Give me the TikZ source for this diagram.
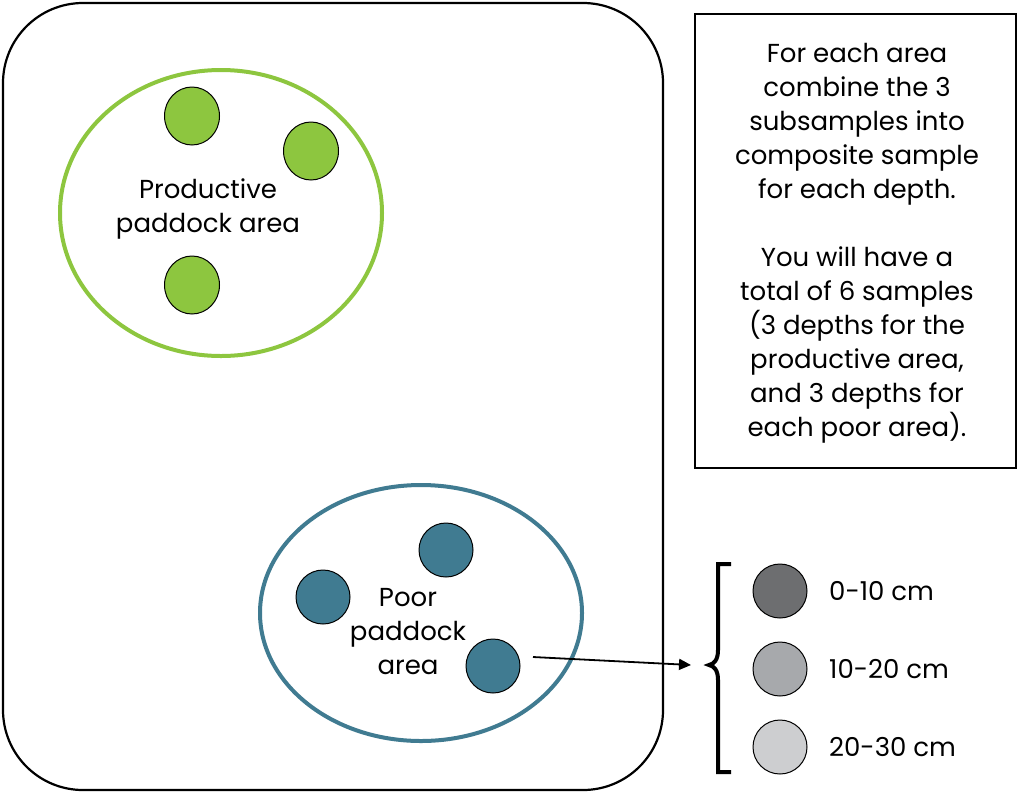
\documentclass[tikz,border=0pt]{standalone}
\usepackage{fontspec}
\setmainfont{Poppins}
\usetikzlibrary{shapes.geometric,arrows.meta}
\definecolor{grn}{HTML}{8DC63F}
\definecolor{blu}{HTML}{407B91}
\definecolor{g1}{HTML}{6D6E70}
\definecolor{g2}{HTML}{A7A9AC}
\definecolor{g3}{HTML}{CDCED0}
\tikzset{
  dot/.style={circle,draw=black,line width=1pt,minimum size=54pt,inner sep=0pt},
  area/.style={ellipse,line width=4pt,inner sep=0pt},
  lbl/.style={align=center,font=\fontsize{26}{34}\selectfont,inner sep=0pt},
  legend/.style={anchor=west,font=\fontsize{26}{34}\selectfont,inner sep=0pt}
}
\begin{document}
\begin{tikzpicture}[x=1pt,y=-1pt]
\useasboundingbox (0,0) rectangle (1024,793);
% outer paddock
\node[draw=black,line width=2.2pt,rounded corners=80pt,minimum width=660pt,minimum height=787pt,inner sep=0pt] (paddock) at (333,396.5) {};
% productive area
\node[area,draw=grn,minimum width=322pt,minimum height=286pt] (prod) at (221,213) {};
\node[dot,fill=grn,minimum width=55pt,minimum height=58pt,ellipse] (p1) at (192,116) {};
\node[dot,fill=grn,minimum width=55pt,minimum height=58pt,ellipse] (p2) at (311,151) {};
\node[dot,fill=grn,minimum width=55pt,minimum height=58pt,ellipse] (p3) at (192,285) {};
\node[lbl] (prodtxt) at (208,209) {Productive\\paddock area};
% poor area
\node[area,draw=blu,minimum width=322pt,minimum height=256pt] (poor) at (421,613) {};
\node[dot,fill=blu] (b1) at (446,550) {};
\node[dot,fill=blu] (b2) at (323,597) {};
\node[dot,fill=blu] (b3) at (493,666) {};
\node[lbl] (poortxt) at (408,632) {Poor\\paddock\\area};
% info box
\node[draw=black,line width=2pt,minimum width=321pt,minimum height=454pt,inner sep=0pt] (box) at (855.5,241) {};
\node[lbl] (info) at (857,243) {For each area\\combine the 3\\subsamples into\\composite sample\\for each depth.\\[34pt]You will have a\\total of 6 samples\\(3 depths for the\\productive area,\\and 3 depths for\\each poor area).};
% brace
\coordinate (btop) at (731,564);
\coordinate (bbot) at (731,772);
\coordinate (btip) at (709,665);
\draw[line width=4pt] (btop) -- (718,564) -- (718,650) .. controls (718,660) and (714,664) .. (btip) .. controls (714,666) and (718,670) .. (718,680) -- (718,772) -- (bbot);
% arrow
\coordinate (astart) at (533,657);
\coordinate (aend) at (691,665);
\draw[line width=1.8pt,-{Triangle[length=12pt,width=11pt]}] (astart) -- (aend);
% legend
\node[dot,fill=g1] (d1) at (780,591) {};
\node[dot,fill=g2] (d2) at (780,669) {};
\node[dot,fill=g3] (d3) at (780,747) {};
\node[legend] (l1) at (829,591) {0-10 cm};
\node[legend] (l2) at (829,669) {10-20 cm};
\node[legend] (l3) at (829,747) {20-30 cm};
\end{tikzpicture}
\end{document}
